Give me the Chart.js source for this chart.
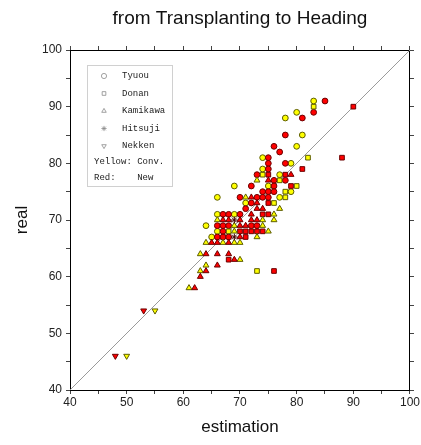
<!DOCTYPE html>
<html>
<head>
<meta charset="utf-8">
<script src="https://cdn.jsdelivr.net/npm/chart.js@4.4.0/dist/chart.umd.min.js"></script>
<style>
html,body{margin:0;padding:0;background:#fff;}
</style>
</head>
<body>
<canvas id="myChart" width="421" height="445"></canvas>
<script>
const chartTitle = 'from Transplanting to Heading';
const xTitle = 'estimation';
const yTitle = 'real';
const axisMin = 40;
const axisMax = 100;
const tickStep = 5;
const labelStep = 10;

// [estimation, real]
const tyuouConv = [[83,91],[80,89],[78,88],[81,85],[80,83],[74,81],[79,80],[74,79],[77,78],[69,76],[75,76],[79,75],[66,74],[77,74],[71,73],[66,71],[69,71],[64,69],[66,68],[65,67]];
const tyuouNew = [[85,91],[83,89],[81,88],[78,85],[76,83],[77,82],[75,81],[75,80],[78,80],[75,79],[73,78],[76,77],[78,77],[72,76],[76,76],[74,75],[75,75],[76,75],[70,74],[73,74],[74,74],[75,74],[72,73],[71,72],[67,71],[68,71],[70,71],[66,69],[67,69],[68,69],[72,69],[73,69],[67,68],[66,67],[67,67],[68,67]];
const donanConv = [[83,90],[82,81],[74,78],[77,77],[80,76],[78,75],[78,74],[76,73],[68,68],[73,61]];
const donanNew = [[90,90],[88,81],[81,79],[75,78],[78,78],[79,76],[75,73],[74,71],[75,71],[70,68],[71,68],[72,68],[73,68],[74,68],[71,67],[68,63],[76,61]];
const kamikawaConv = [[73,77],[71,74],[77,72],[76,71],[66,70],[74,70],[76,70],[69,69],[74,69],[69,68],[75,68],[73,67],[64,66],[67,66],[69,66],[70,66],[63,64],[70,63],[64,62],[63,61],[61,58]];
const kamikawaNew = [[79,78],[75,77],[72,74],[73,73],[73,72],[74,72],[72,71],[67,70],[68,70],[70,70],[72,70],[73,70],[70,69],[71,69],[70,67],[65,66],[66,66],[68,66],[64,64],[66,64],[68,64],[69,63],[66,62],[64,61],[63,60],[62,58]];
const hitsujiNew = [[69,70],[69,67]];
const nekkenConv = [[55,54],[50,46]];
const nekkenNew = [[53,54],[48,46]];

const varieties = ['Tyuou','Donan','Kamikawa','Hitsuji','Nekken'];
const colourNotes = ['Yellow: Conv.','Red:    New'];

// marker look per variety (same order as varieties)
const markerStyles = [
    {pointStyle:'circle', radius:2.9, rotation:0},
    {pointStyle:'rect', radius:3.3, rotation:0},
    {pointStyle:'triangle', radius:3.4, rotation:0},
    {pointStyle:'star', radius:3.4, rotation:0},
    {pointStyle:'triangle', radius:3.4, rotation:180}
];
const yellow = {fill:'#ffff00', line:'#5c5c00'};
const red = {fill:'#ff0000', line:'#6a0000'};

const toPts = arr => arr.map(p => ({x:p[0], y:p[1]}));

const makeSet = (name, arr, kind, col) => {
    const m = markerStyles[kind];
    return {
        label: name,
        data: toPts(arr),
        pointStyle: m.pointStyle,
        pointRadius: m.radius,
        pointRotation: m.rotation,
        backgroundColor: col.fill,
        borderColor: m.pointStyle === 'star' ? '#400000' : col.line,
        borderWidth: 1,
        showLine: false
    };
};

const diag = [axisMin, axisMax];

const datasets = [
    makeSet('Nekken New', nekkenNew, 4, red),
    makeSet('Nekken Conv', nekkenConv, 4, yellow),
    makeSet('Hitsuji New', hitsujiNew, 3, red),
    makeSet('Kamikawa New', kamikawaNew, 2, red),
    makeSet('Kamikawa Conv', kamikawaConv, 2, yellow),
    makeSet('Donan New', donanNew, 1, red),
    makeSet('Donan Conv', donanConv, 1, yellow),
    makeSet('Tyuou New', tyuouNew, 0, red),
    makeSet('Tyuou Conv', tyuouConv, 0, yellow),
    {
        label: 'x=y',
        data: diag.map(v => ({x:v, y:v})),
        showLine: true,
        pointRadius: 0,
        borderColor: '#9a9a9a',
        borderWidth: 1,
        fill: false
    }
];

const sans = '"Liberation Sans", Arial, Helvetica, sans-serif';
const mono = '"Liberation Mono", "Courier New", monospace';

const tickLabel = v => (v % labelStep === 0 ? v : '');

const titlePlugin = {
    id: 'topTitle',
    afterDraw(chart) {
        const {ctx, chartArea} = chart;
        ctx.save();
        ctx.font = '19px ' + sans;
        ctx.fillStyle = '#111';
        ctx.textAlign = 'center';
        ctx.textBaseline = 'alphabetic';
        ctx.fillText(chartTitle, (chartArea.left + chartArea.right) / 2, 24);
        ctx.restore();
    }
};

const boxLegend = {
    id: 'boxLegend',
    afterDraw(chart) {
        const {ctx, chartArea} = chart;
        const bx = chartArea.left + 17, by = chartArea.top + 15;
        const bw = 85, bh = 121;
        ctx.save();
        ctx.fillStyle = '#fff';
        ctx.fillRect(bx, by, bw, bh);
        ctx.strokeStyle = '#d0d0d0';
        ctx.lineWidth = 1;
        ctx.strokeRect(bx + 0.5, by + 0.5, bw, bh);
        ctx.font = '9px ' + mono;
        ctx.textBaseline = 'middle';
        ctx.textAlign = 'left';
        varieties.forEach((name, i) => {
            const y = by + 11 + i * 17.5;
            const m = markerStyles[i];
            ctx.fillStyle = '#fff';
            ctx.strokeStyle = '#8a8a8a';
            ctx.lineWidth = 0.8;
            Chart.helpers.drawPoint(ctx, {pointStyle:m.pointStyle, radius:2.6, rotation:m.rotation, borderWidth:0.8}, bx + 17, y);
            ctx.fillStyle = '#222';
            ctx.fillText(name, bx + 35, y);
        });
        colourNotes.forEach((t, i) => {
            ctx.fillStyle = '#222';
            ctx.fillText(t, bx + 7, by + 97 + i * 16);
        });
        ctx.restore();
    }
};

let ctx = document.getElementById('myChart').getContext('2d');
let myChart = new Chart(ctx, {
    type: 'scatter',
    data: {datasets: datasets},
    plugins: [titlePlugin, boxLegend],
    options: {
        responsive: false,
        animation: false,
        layout: {padding: {top: 50, right: 11, left: 0, bottom: 0}},
        plugins: {legend: {display: false}, tooltip: {enabled: false}, title: {display: false}},
        scales: {
            x: {
                type: 'linear', position: 'bottom', min: axisMin, max: axisMax,
                ticks: {stepSize: tickStep, autoSkip: false, maxRotation: 0, padding: 1, color: '#222', font: {family: sans, size: 12}, callback: tickLabel},
                grid: {drawOnChartArea: false, tickLength: 4, color: '#444'},
                border: {color: '#000', width: 1},
                title: {display: true, text: xTitle, color: '#111', font: {family: sans, size: 17}, padding: {top: 0, bottom: 7}},
                afterFit: s => { s.height = 55; }
            },
            y: {
                type: 'linear', position: 'left', min: axisMin, max: axisMax,
                ticks: {stepSize: tickStep, autoSkip: false, padding: 4, color: '#222', font: {family: sans, size: 12}, callback: tickLabel},
                grid: {drawOnChartArea: false, tickLength: 4, color: '#444'},
                border: {color: '#000', width: 1},
                title: {display: true, text: yTitle, color: '#111', font: {family: sans, size: 17}, padding: {top: 12, bottom: 0}},
                afterFit: s => { s.width = 70; }
            },
            x2: {
                type: 'linear', position: 'top', min: axisMin, max: axisMax,
                ticks: {display: false, stepSize: tickStep, autoSkip: false},
                grid: {drawOnChartArea: false, tickLength: 4, color: '#444'},
                border: {color: '#000', width: 1},
                afterFit: s => { s.height = 0; }
            },
            y2: {
                type: 'linear', position: 'right', min: axisMin, max: axisMax,
                ticks: {display: false, stepSize: tickStep, autoSkip: false},
                grid: {drawOnChartArea: false, tickLength: 4, color: '#444'},
                border: {color: '#000', width: 1},
                afterFit: s => { s.width = 0; }
            }
        }
    }
});
</script>
</body>
</html>
